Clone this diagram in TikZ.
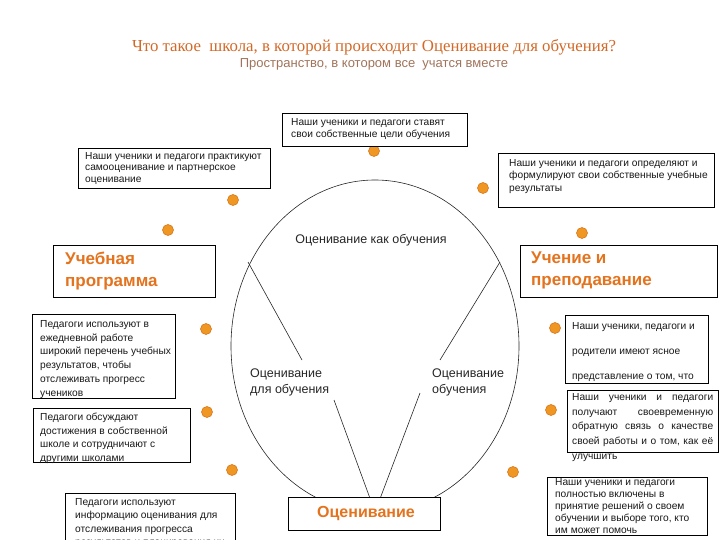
\documentclass[tikz,border=0pt]{standalone}
\usepackage{fontspec}
\setmainfont{Liberation Sans}
\newfontfamily\titlefont{Liberation Serif}
\definecolor{ttl}{RGB}{210,105,40}
\definecolor{sub}{RGB}{160,115,90}
\definecolor{hd}{RGB}{228,115,30}
\definecolor{dotf}{RGB}{240,150,35}
\definecolor{dotd}{RGB}{215,120,30}
\definecolor{txtc}{RGB}{25,25,25}
\tikzset{
  txt/.style={anchor=north west, inner sep=0pt, align=left, text=txtc,
    font=\fontsize{10.2}{#1}\selectfont},
  boxline/.style={draw=black, line width=0.9pt, fill=white},
  hdtxt/.style={anchor=north west, inner sep=0pt, align=left, text=hd,
    font=\fontsize{17}{22}\selectfont\bfseries},
  ctxt/.style={inner sep=0pt, align=left, text=black!85,
    font=\fontsize{12.5}{16}\selectfont},
  cline/.style={black!85, line width=0.6pt},
  odot/.style={circle, fill=dotf, draw=dotd, line width=0.6pt, minimum size=11pt, inner sep=0pt}
}
\begin{document}
\begin{tikzpicture}[x=1pt,y=-1pt]
\useasboundingbox (0,0) rectangle (720,540);
\clip (0,0) rectangle (720,540);
% title
\node[text=ttl, font=\titlefont\fontsize{16.8}{18}\selectfont] (title) at (374,47) {Что такое\ \ школа, в которой происходит Оценивание для обучения?};
\node[text=sub, font=\fontsize{13}{15}\selectfont] (subtitle) at (374,64) {Пространство, в котором все\ \ учатся вместе};
% circle and lines
\draw[cline] (375,346) ellipse [x radius=144, y radius=166];
\coordinate (ul) at (248,262);
\coordinate (ulb) at (302,360);
\coordinate (ur) at (500,262);
\coordinate (urb) at (440,360);
\coordinate (vtx) at (375,512);
\coordinate (ll) at (334,400);
\coordinate (lr) at (420,393);
\draw[cline] (ul) -- (ulb);
\draw[cline] (ur) -- (urb);
\draw[cline] (ll) -- (vtx) -- (lr);
% dots
\node[odot] (d1) at (374,151) {};
\node[odot] (d2) at (233,200) {};
\node[odot] (d3) at (483,188) {};
\node[odot] (d4) at (168,230) {};
\node[odot] (d5) at (582,233) {};
\node[odot] (d6) at (206,329) {};
\node[odot] (d7) at (555,328) {};
\node[odot] (d8) at (207,412) {};
\node[odot] (d9) at (551,410) {};
\node[odot] (d10) at (232,470) {};
\node[odot] (d11) at (513,472) {};
\node[odot] (d12) at (229,501) {};
% boxes
\draw[boxline] (282,113) rectangle (467,146);
\draw[boxline] (78,148) rectangle (270,188);
\draw[boxline] (498,153) rectangle (714,207);
\draw[boxline] (53,245) rectangle (215,297);
\draw[boxline] (520,245) rectangle (717,297);
\draw[boxline] (32,314) rectangle (175,398);
\draw[boxline] (33,408) rectangle (190,462);
\draw[boxline] (565,315) rectangle (708,383);
\draw[boxline] (567,390) rectangle (718,452);
\draw[boxline] (547,477) rectangle (707,535);
\draw[boxline] (65,493) rectangle (235,560);
\draw[boxline] (288,497) rectangle (440,530);
% box texts
\node[txt=12] (t1) at (291,118) {Наши ученики и педагоги ставят\\свои собственные цели обучения};
\node[txt=11.5] (t2) at (85,152) {Наши ученики и педагоги практикуют\\самооценивание и партнерское\\оценивание};
\node[txt=12.5] (t3) at (509,159) {Наши ученики и педагоги определяют и\\формулируют свои собственные учебные\\результаты};
\node[txt=13.8] (t6) at (40,320) {Педагоги используют в\\ежедневной работе\\широкий перечень учебных\\результатов, чтобы\\отслеживать прогресс\\учеников};
\node[txt=13.5] (t7) at (40,413) {Педагоги обсуждают\\достижения в собственной\\школе и сотрудничают с\\другими школами};
\node[txt=25] (t8) at (572,322) {Наши ученики, педагоги и\\родители имеют ясное\\представление о том, что};
\node[txt=14.8, text width=141pt] (t9) at (572,393) {Наши\hfill ученики\hfill и\hfill педагоги\\получают\hfill своевременную\\обратную\hfill связь\hfill о\hfill качестве\\своей\hfill работы\hfill и\hfill о\hfill том,\hfill как\hfill её\\улучшить};
\node[txt=12] (t10) at (555,478) {Наши ученики и педагоги\\полностью включены в\\принятие решений о своем\\обучении и выборе того, кто\\им может помочь};
\node[txt=13.4] (t11) at (75,498) {Педагоги используют\\информацию оценивания для\\отслеживания прогресса\\результатов и планирования их};
% headings
\node[hdtxt] (h1) at (65,252) {Учебная\\программа};
\node[hdtxt] (h2) at (531,252) {Учение и\\преподавание};
\node[text=hd, font=\fontsize{16}{18}\selectfont\bfseries] (h3) at (366,514) {Оценивание};
% circle texts
\node[ctxt] (c1) at (371,240) {Оценивание как обучения};
\node[ctxt, anchor=north west] (c2) at (250,369) {Оценивание\\для обучения};
\node[ctxt, anchor=north west] (c3) at (432,369) {Оценивание\\обучения};
\end{tikzpicture}
\end{document}
